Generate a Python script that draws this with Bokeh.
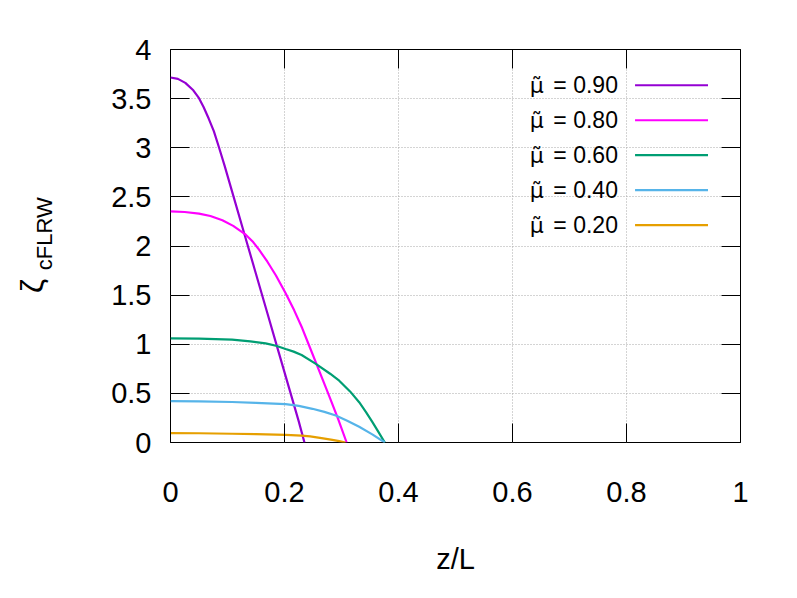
import math
from bokeh.plotting import figure
from bokeh.models import Range1d, FixedTicker, LinearAxis, Label
from bokeh.embed import file_html
from bokeh.resources import INLINE

# ---- data ----
x_ticks = [0, 0.2, 0.4, 0.6, 0.8, 1.0]
x_tick_labels = ["0", "0.2", "0.4", "0.6", "0.8", "1"]
y_ticks = [0, 0.5, 1, 1.5, 2, 2.5, 3, 3.5, 4]
y_tick_labels = ["0", "0.5", "1", "1.5", "2", "2.5", "3", "3.5", "4"]

mu_symbol = "μ̃"
mu_values = ["= 0.90", "= 0.80", "= 0.60", "= 0.40", "= 0.20"]

x_090 = [0.000, 0.013, 0.026, 0.040, 0.050, 0.058, 0.067, 0.076, 0.085, 0.095, 0.110, 0.130, 0.150, 0.170, 0.190, 0.210, 0.225, 0.235]
y_090 = [3.715, 3.701, 3.660, 3.585, 3.505, 3.415, 3.297, 3.169, 3.005, 2.815, 2.515, 2.115, 1.715, 1.315, 0.915, 0.515, 0.215, 0.000]

x_080 = [0.000, 0.025, 0.050, 0.070, 0.091, 0.110, 0.132, 0.145, 0.155, 0.170, 0.185, 0.202, 0.217, 0.231, 0.243, 0.255, 0.267, 0.279, 0.294, 0.309]
y_080 = [2.352, 2.346, 2.330, 2.305, 2.262, 2.205, 2.115, 2.040, 1.965, 1.840, 1.700, 1.520, 1.345, 1.165, 0.990, 0.815, 0.640, 0.465, 0.240, 0.000]

x_060 = [0.000, 0.050, 0.108, 0.140, 0.167, 0.185, 0.202, 0.216, 0.230, 0.255, 0.280, 0.296, 0.315, 0.331, 0.343, 0.354, 0.365, 0.376]
y_060 = [1.060, 1.057, 1.047, 1.030, 1.009, 0.985, 0.952, 0.925, 0.890, 0.800, 0.700, 0.629, 0.520, 0.410, 0.310, 0.210, 0.105, 0.000]

x_040 = [0.000, 0.050, 0.108, 0.150, 0.202, 0.225, 0.249, 0.270, 0.290, 0.310, 0.331, 0.354, 0.376]
y_040 = [0.422, 0.419, 0.412, 0.404, 0.391, 0.372, 0.343, 0.312, 0.275, 0.222, 0.160, 0.083, 0.000]

x_020 = [0.000, 0.050, 0.108, 0.150, 0.202, 0.230, 0.245, 0.265, 0.284, 0.296, 0.307]
y_020 = [0.096, 0.094, 0.089, 0.085, 0.078, 0.070, 0.062, 0.045, 0.027, 0.014, 0.000]

xs = [x_090, x_080, x_060, x_040, x_020]
ys = [y_090, y_080, y_060, y_040, y_020]
colors = ["#9400d3", "#ff00ff", "#009e73", "#56b4e9", "#e69f00"]

FONT = "Liberation Sans"
NBSP = "\u00a0"

p = figure(width=797, height=598, x_range=Range1d(0, 1), y_range=Range1d(0, 4),
           output_backend="svg", toolbar_location=None,
           min_border_left=170, min_border_right=57, min_border_top=49, min_border_bottom=156)
p.outline_line_color = "black"
p.outline_line_width = 1
p.background_fill_color = "white"
p.border_fill_color = "white"

xt = FixedTicker(ticks=x_ticks)
yt = FixedTicker(ticks=y_ticks)

for ax, tk, labs in ((p.xaxis[0], xt, x_tick_labels), (p.yaxis[0], yt, y_tick_labels)):
    ax.ticker = tk
    ax.major_label_overrides = {t: l for t, l in zip(tk.ticks, labs)}
    ax.axis_line_color = None
    ax.major_tick_in = 19
    ax.major_tick_out = 0
    ax.minor_tick_line_color = None
    ax.major_tick_line_color = "black"
    ax.major_label_text_font = FONT
    ax.major_label_text_font_size = "29px"
    ax.major_label_text_color = "black"
p.xaxis.major_label_standoff = 39
p.yaxis.major_label_standoff = 19

p.xaxis.axis_label = "z/L"
p.xaxis.axis_label_text_font = FONT
p.xaxis.axis_label_text_font_size = "29px"
p.xaxis.axis_label_text_font_style = "normal"
p.xaxis.axis_label_text_color = "black"
p.xaxis.axis_label_standoff = 38

# y title: subscript part on the main y axis, zeta on an outer label-only axis
p.yaxis.axis_label = NBSP * 4 + "cFLRW"
p.yaxis.axis_label_text_font = FONT
p.yaxis.axis_label_text_font_size = "22px"
p.yaxis.axis_label_text_font_style = "normal"
p.yaxis.axis_label_text_color = "black"
p.yaxis.axis_label_standoff = 51

zeta_axis = LinearAxis(ticker=FixedTicker(ticks=[]), axis_line_color=None,
                       major_tick_line_color=None, minor_tick_line_color=None,
                       axis_label="ζ" + NBSP * 9, axis_label_text_font=FONT,
                       axis_label_text_font_size="32px", axis_label_text_font_style="normal",
                       axis_label_text_color="black", axis_label_standoff=-20)
p.add_layout(zeta_axis, "left")

# mirror ticks
top = LinearAxis(ticker=FixedTicker(ticks=x_ticks), axis_line_color=None, major_tick_in=19,
                 major_tick_out=0, minor_tick_line_color=None, major_label_text_color=None,
                 major_label_text_font_size="1px")
right = LinearAxis(ticker=FixedTicker(ticks=y_ticks), axis_line_color=None, major_tick_in=19,
                   major_tick_out=0, minor_tick_line_color=None, major_label_text_color=None,
                   major_label_text_font_size="1px")
p.add_layout(top, "above")
p.add_layout(right, "right")

p.xgrid.ticker = xt
p.ygrid.ticker = yt
for g in (p.xgrid[0], p.ygrid[0]):
    g.grid_line_color = "#a8a8a8"
    g.grid_line_dash = "1 2"
    g.grid_line_width = 1

for xv, yv, c in zip(xs, ys, colors):
    p.line(xv, yv, line_color=c, line_width=2.2)

# legend (gnuplot style: text right-aligned, sample line to the right)
leg_text_x = 0.785
leg_mu_x = 0.655
leg_line_x0 = 0.815
leg_line_x1 = 0.943
leg_top = 3.636
leg_step = 0.356
for i, (lab, c) in enumerate(zip(mu_values, colors)):
    yy = leg_top - i * leg_step
    p.add_layout(Label(x=leg_mu_x, y=yy, text=mu_symbol, text_align="right", text_baseline="middle",
                       text_font="DejaVu Sans", text_font_size="22px", text_color="black"))
    p.add_layout(Label(x=leg_text_x, y=yy, text=lab, text_align="right", text_baseline="middle",
                       text_font=FONT, text_font_size="23px", text_color="black"))
    p.segment(x0=[leg_line_x0], y0=[yy], x1=[leg_line_x1], y1=[yy], line_color=c, line_width=2.2)

open("out.html", "w").write(file_html(p, INLINE))
